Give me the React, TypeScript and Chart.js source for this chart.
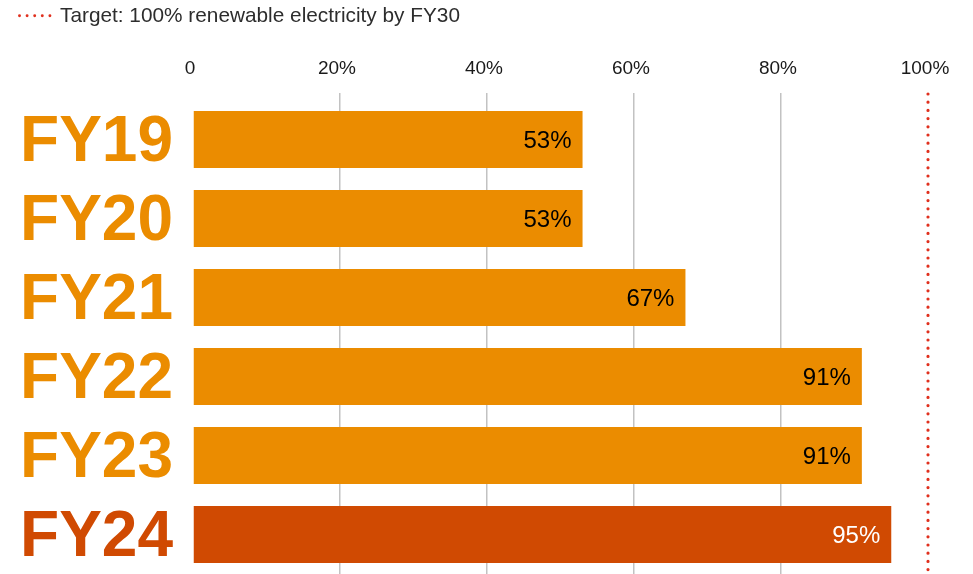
import React, { useEffect, useRef } from "react";
import { Chart, registerables } from "chart.js";

Chart.register(...registerables);

// Share of electricity from renewable sources, by financial year
const categories = ["FY19", "FY20", "FY21", "FY22", "FY23", "FY24"];
const renewableShare = [53, 53, 67, 91, 91, 95];
const xTickValues = [0, 20, 40, 60, 80, 100];
const targetValue = 100;
const targetLabel = "Target: 100% renewable electricity by FY30";
const currentYear = "FY24";

const FONT = '"Liberation Sans", Arial, Helvetica, sans-serif';
const ORANGE = "#EB8C00";
const TANGERINE = "#D04A02";
const TARGET_RED = "#E0301E";
const GRID_GREY = "#c2c2c2";

const isCurrent = (i: number) => categories[i] === currentYear;

// Draws the value labels inside the bars, the dotted target line and its legend.
const overlayPlugin = {
  id: "overlay",
  afterDatasetsDraw(chart: any) {
    const { ctx, chartArea, scales } = chart;
    const meta = chart.getDatasetMeta(0);

    // value labels, right-aligned inside each bar
    ctx.save();
    ctx.font = `24px ${FONT}`;
    ctx.textAlign = "right";
    ctx.textBaseline = "middle";
    meta.data.forEach((bar: any, i: number) => {
      ctx.fillStyle = isCurrent(i) ? "#ffffff" : "#000000";
      ctx.fillText(`${renewableShare[i]}%`, bar.x - 11, bar.y + 1.5);
    });
    ctx.restore();

    // dotted target line
    const x = scales.x.getPixelForValue(targetValue);
    ctx.save();
    ctx.strokeStyle = TARGET_RED;
    ctx.lineWidth = 3.2;
    ctx.lineCap = "round";
    ctx.setLineDash([0, 8.2]);
    ctx.beginPath();
    ctx.moveTo(x, chartArea.top - 6);
    ctx.lineTo(x, chart.height);
    ctx.stroke();
    ctx.restore();

    // legend entry
    ctx.save();
    ctx.fillStyle = TARGET_RED;
    for (let k = 0; k < 5; k++) {
      ctx.beginPath();
      ctx.arc(19.5 + k * 7.6, 15.7, 1.45, 0, Math.PI * 2);
      ctx.fill();
    }
    ctx.fillStyle = "#2d2d2d";
    ctx.font = `20.8px ${FONT}`;
    ctx.textAlign = "left";
    ctx.textBaseline = "middle";
    ctx.fillText(targetLabel, 60, 15.8);
    ctx.restore();
  },
};

export default function App() {
  const canvasRef = useRef<HTMLCanvasElement | null>(null);

  useEffect(() => {
    const canvas = canvasRef.current;
    if (!canvas) return;

    const gridColor = (ctx: any) => {
      const v = ctx.tick && ctx.tick.value;
      return v === 0 || v === targetValue ? "rgba(0,0,0,0)" : GRID_GREY;
    };

    const chart = new Chart(canvas, {
      type: "bar",
      data: {
        labels: categories,
        datasets: [
          {
            data: renewableShare,
            backgroundColor: categories.map((_, i) => (isCurrent(i) ? TANGERINE : ORANGE)),
            borderWidth: 0,
            categoryPercentage: 1,
            barPercentage: 0.72,
          },
        ],
      },
      options: {
        indexAxis: "y",
        responsive: false,
        animation: false,
        layout: { padding: { top: 55, right: 45, bottom: 0, left: 0 } },
        plugins: {
          legend: { display: false },
          tooltip: { enabled: false },
        },
        scales: {
          x: {
            position: "top",
            min: 0,
            max: 100,
            afterBuildTicks: (scale: any) => {
              scale.ticks = xTickValues.map((value) => ({ value }));
            },
            afterFit: (scale: any) => {
              scale.height = 45;
            },
            ticks: {
              callback: (v: any) => (Number(v) === 0 ? "0" : `${v}%`),
              font: { family: FONT, size: 19 },
              color: "#1a1a1a",
              padding: 13,
              labelOffset: -3,
              maxRotation: 0,
            },
            grid: {
              color: gridColor,
              tickColor: gridColor,
              lineWidth: 1.5,
              tickWidth: 1.5,
              tickLength: 7,
              drawTicks: true,
            },
            border: { display: false },
          },
          y: {
            afterFit: (scale: any) => {
              scale.width = 193;
              scale.paddingTop = 0;
              scale.paddingBottom = 0;
            },
            ticks: {
              autoSkip: false,
              font: { family: FONT, size: 64, weight: "bold", lineHeight: 1 },
              color: (ctx: any) => (isCurrent(ctx.index) ? TANGERINE : ORANGE),
              padding: 20,
              labelOffset: 4,
            },
            grid: { display: false, drawTicks: false },
            border: { display: false },
          },
        },
      },
      plugins: [overlayPlugin],
    } as any);

    return () => chart.destroy();
  }, []);

  return (
    <div style={{ position: "absolute", left: 0, top: 0, width: 973, height: 574, background: "#ffffff" }}>
      <canvas ref={canvasRef} width={973} height={574} />
    </div>
  );
}
